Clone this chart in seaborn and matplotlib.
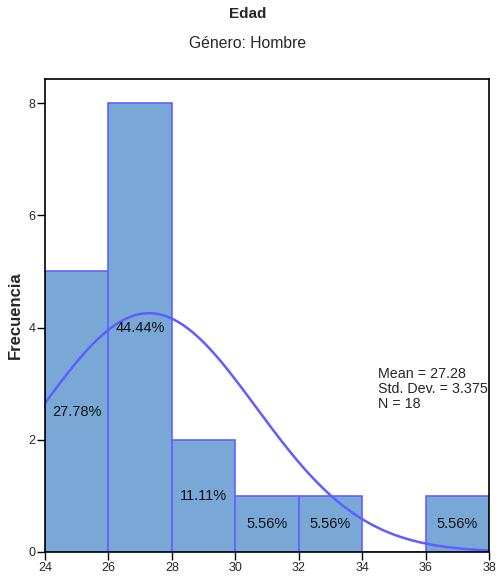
import numpy as np
import pandas as pd
import matplotlib
matplotlib.use("Agg")
import matplotlib.pyplot as plt
import seaborn as sns

# Data
bin_edges = [24, 26, 28, 30, 32, 34, 36, 38]
bin_counts = [5, 8, 2, 1, 1, 0, 1]
pct_labels = ["27.78%", "44.44%", "11.11%", "5.56%", "5.56%", "", "5.56%"]
mean_val = 27.28
std_val = 3.375
n_val = 18
x_ticks = [24, 26, 28, 30, 32, 34, 36, 38]
y_ticks = [0, 2, 4, 6, 8]

sns.set_theme(style="white")
plt.rcParams['font.family'] = ['Liberation Sans', 'DejaVu Sans']

fig = plt.figure(figsize=(4.96, 5.78), dpi=100)
ax = fig.add_axes([45/496, 1 - 552/578, (489-45)/496, (552-79)/578])

centers = [(a + b) / 2 for a, b in zip(bin_edges[:-1], bin_edges[1:])]
df = pd.DataFrame({"Edad": centers, "n": bin_counts})
sns.histplot(data=df, x="Edad", weights="n", bins=bin_edges, ax=ax,
             color="#79A8D6", alpha=1.0, edgecolor="#6262FF", linewidth=1.2)

# normal curve
bw = bin_edges[1] - bin_edges[0]
xs = np.linspace(bin_edges[0], bin_edges[-1], 300)
ys = n_val * bw / (std_val * np.sqrt(2 * np.pi)) * np.exp(-0.5 * ((xs - mean_val) / std_val) ** 2)
sns.lineplot(x=xs, y=ys, ax=ax, color="#5E5EFF", linewidth=1.8)

for c, cnt, lab in zip(centers, bin_counts, pct_labels):
    if lab:
        ax.text(c, cnt / 2, lab, ha="center", va="center", fontsize=10.5, color="#111111")

ax.text(378/496, 1 - 389/578, f"Mean = {mean_val:.2f}\nStd. Dev. = {std_val:.3f}\nN = {n_val}",
        transform=fig.transFigure, ha="left", va="center", fontsize=10.3, linespacing=1.05)

ax.set_xlim(bin_edges[0], bin_edges[-1])
ax.set_ylim(0, 8.43)
ax.set_xticks(x_ticks)
ax.set_yticks(y_ticks)
ax.tick_params(axis="both", which="both", direction="out", length=6, width=1,
               labelsize=9, color="black", bottom=True, left=True, pad=1)
for s in ax.spines.values():
    s.set_color("black")
    s.set_linewidth(1.2)
ax.set_xlabel("")
ax.set_ylabel("Frecuencia", fontsize=12, fontweight="bold", labelpad=4)

fig.text(0.5, 1 - 14/578, "Edad", ha="center", va="center", fontsize=11, fontweight="bold")
fig.text(0.5, 1 - 43/578, "Género: Hombre", ha="center", va="center", fontsize=11.3)

fig.savefig("out.png", dpi=100)
